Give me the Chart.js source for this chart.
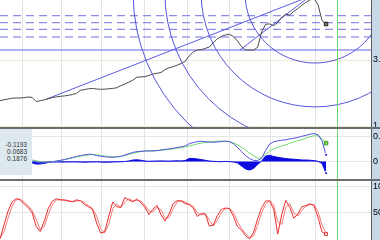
<!DOCTYPE html>
<html>
<head>
<meta charset="utf-8">
<script src="https://cdn.jsdelivr.net/npm/chart.js@4/dist/chart.umd.min.js"></script>
<style>
  html, body { margin: 0; padding: 0; background: #fff; }
  #wrap { position: relative; width: 380px; height: 240px; overflow: hidden; background: #fff; }
  canvas { position: absolute; left: 0; }
  .sep { position: absolute; left: 0; width: 380px; height: 2px; background: #6d6d6d; }
  #macdBox {
    position: absolute; left: 0; top: 129px; width: 32px; height: 46px;
    box-sizing: border-box; padding: 13px 5px 0 0;
    background: #dde8ef; color: #333; text-align: right;
    font: 6.5px 'Liberation Sans', Arial, sans-serif; line-height: 6.8px;
  }
</style>
</head>
<body>
<div id="wrap">
  <canvas id="priceChart" width="410" height="127" style="top:0"></canvas>
  <div class="sep" style="top:127px"></div>
  <canvas id="macdChart" width="410" height="50" style="top:129px"></canvas>
  <div class="sep" style="top:179px"></div>
  <canvas id="stochChart" width="410" height="59" style="top:181px"></canvas>
  <div id="macdBox"></div>
</div>
<script>
// one value per bar, bar 0 is the left edge
const priceClose = [
  1.770, 1.794, 1.818, 1.842, 1.848, 1.848, 1.860, 1.879, 1.866, 1.742,
  1.767, 1.794, 1.824, 1.860, 1.882, 1.900, 1.912, 1.930, 1.954, 1.988,
  2.085, 2.103, 2.130, 2.136, 2.121, 2.112, 2.118, 2.127, 2.139, 2.160,
  2.221, 2.270, 2.330, 2.388, 2.476, 2.488, 2.494, 2.533, 2.573, 2.597,
  2.621, 2.712, 2.763, 2.797, 2.842, 2.894, 2.957, 3.121, 3.242, 3.303,
  3.315, 3.351, 3.394, 3.524, 3.642, 3.715, 3.757, 3.782, 3.709, 3.576,
  3.409, 3.303, 3.303, 3.303, 3.385, 3.848, 4.082, 4.094, 4.039, 4.139,
  4.294, 4.391, 4.363, 4.476, 4.560, 4.660, 4.748, 4.818, 4.864, 4.682,
  4.197, 4.091
]

// oscillators start at bar 8 (under the readout box)
const oscStart = 8
const macdLine = [
  0.005, -0.005, -0.018, -0.013, -0.007, -0.003, 0.005, 0.012, 0.020, 0.030,
  0.041, 0.051, 0.061, 0.068, 0.074, 0.072, 0.060, 0.054, 0.049, 0.044,
  0.044, 0.047, 0.051, 0.066, 0.079, 0.093, 0.100, 0.104, 0.107, 0.108,
  0.109, 0.111, 0.117, 0.124, 0.128, 0.135, 0.143, 0.150, 0.158, 0.181,
  0.193, 0.202, 0.207, 0.202, 0.199, 0.196, 0.199, 0.203, 0.208, 0.202,
  0.181, 0.143, 0.102, 0.061, 0.030, 0.011, 0.010, 0.033, 0.114, 0.179,
  0.201, 0.211, 0.217, 0.222, 0.230, 0.237, 0.246, 0.257, 0.267, 0.278,
  0.286, 0.272, 0.211, 0.0683
]
const macdSignal = [
  0.015, 0.008, -0.001, -0.007, -0.005, -0.003, 0.004, 0.010, 0.017, 0.028,
  0.037, 0.046, 0.054, 0.061, 0.067, 0.072, 0.068, 0.062, 0.056, 0.052,
  0.047, 0.049, 0.054, 0.060, 0.071, 0.083, 0.092, 0.102, 0.107, 0.107,
  0.107, 0.111, 0.115, 0.119, 0.123, 0.128, 0.135, 0.141, 0.148, 0.159,
  0.168, 0.179, 0.188, 0.194, 0.201, 0.205, 0.208, 0.208, 0.207, 0.203,
  0.190, 0.170, 0.145, 0.118, 0.087, 0.060, 0.033, 0.037, 0.074, 0.105,
  0.129, 0.143, 0.157, 0.171, 0.185, 0.199, 0.212, 0.223, 0.237, 0.252,
  0.263, 0.262, 0.234, 0.1876
]
const macdHist = [
  -0.015, -0.026, -0.026, -0.020, -0.010, -0.005, -0.005, -0.006, -0.006, -0.005,
  -0.004, -0.005, -0.006, -0.007, -0.006, -0.005, -0.004, -0.006, -0.008, -0.007,
  -0.005, -0.004, -0.003, 0, 0.005, 0.015, 0.017, 0.013, 0.005, 0.002,
  0.004, 0.005, 0.006, 0.005, 0.004, 0.006, 0.007, 0.006, 0.010, 0.031,
  0.031, 0.026, 0.020, 0.012, 0.005, 0.002, -0.001, -0.002, 0.001, -0.001,
  -0.005, -0.015, -0.046, -0.077, -0.087, -0.071, -0.031, 0.005, 0.056, 0.063,
  0.051, 0.043, 0.036, 0.030, 0.026, 0.023, 0.020, 0.015, 0.015, 0.013,
  0.009, 0.002, -0.020, -0.1193
]
const macdReadout = ['-0.1193', '0.0683', '0.1876']

const stochK = [
  0, 26.9, 53.8, 71.2, 77.7, 75, 67.3, 60.6, 50, 24,
  14.4, 34.6, 59, 72.7, 77.5, 75, 75, 72.7, 71.7, 75.2,
  73.5, 66.3, 61.9, 56.9, 30.8, 11.5, 13.5, 42.9, 71.2, 62.1,
  60.6, 79.6, 75, 71.7, 76.9, 70, 61, 47.1, 57.3, 64.4,
  46.7, 34.6, 48.1, 67.7, 73.8, 73.1, 68.1, 66.2, 59.2, 43.3,
  49, 48.1, 25, 26.9, 45.2, 56.7, 59.6, 58.7, 43.3, 23.7,
  17.3, 6.3, 0, 12.9, 38.5, 60.2, 73.1, 73.1, 56.7, 9.6,
  47.1, 74.2, 60.6, 40, 48.1, 62.1, 64.4, 67.7, 64.4, 41.7,
  13.5, 9.6
]
const stochD = [
  2, 14, 40, 63, 75, 77, 71, 64, 55, 37,
  18, 24, 47, 66, 75, 76, 75, 74, 72, 73,
  74, 70, 64, 59, 44, 20, 12, 28, 58, 67,
  61, 70, 78, 73, 74, 73, 65, 54, 52, 61,
  56, 40, 41, 58, 71, 74, 71, 67, 63, 51,
  46, 49, 36, 25, 36, 51, 58, 59, 51, 33,
  20, 11, 3, 6, 26, 50, 67, 74, 65, 33,
  28, 61, 68, 50, 44, 55, 63, 66, 66, 53,
  27, 11
]

// drawing tools on the price panel (bar, price)
const supportLevel = 3.303
const fibLevels = [3.697, 3.930, 4.130, 4.342]
const trendLine = [[11.6, 1.818], [82, 5.166]]
const fanLine = [[59.6, 3.303], [75.8, 4.818]]
const arcCenter = [78.26, 5.03]
const arcRadii = [17.4, 28.3, 37.3, 45.2]

const monthLines = [5.6, 15.3, 25.3, 35.8, 46.7, 56.9, 67.1, 78.3]
const todayBar = 83.7
const lastSlot = 92.17

const priceTicks = [1, 3]
const macdTicks = [-0.25, 0, 0.25]
const stochTicks = [50, 100]

function toPoints(arr, start = 0) {
  return arr.map((v, i) => ({x: i + start, y: v}))
}

function pairPoints(seg) {
  return seg.map(p => ({x: p[0], y: p[1]}))
}

function lastMarker(len, size) {
  return c => c.dataIndex === len - 1 ? size : 0
}

function lineSet(data, color, extra) {
  return Object.assign({
    data: data, borderColor: color, backgroundColor: color,
    borderWidth: 1, pointRadius: 0, tension: 0, fill: false
  }, extra || {})
}

const todayLine = {
  id: 'todayLine',
  afterDatasetsDraw(chart) {
    const {ctx, chartArea, scales} = chart
    const x = Math.round(scales.x.getPixelForValue(todayBar)) + 0.5
    ctx.save()
    ctx.strokeStyle = '#6cd86c'
    ctx.lineWidth = 1
    ctx.beginPath()
    ctx.moveTo(x, chartArea.top)
    ctx.lineTo(x, chartArea.bottom)
    ctx.stroke()
    ctx.restore()
  }
}

const fibArcs = {
  id: 'fibArcs',
  afterDatasetsDraw(chart) {
    const {ctx, chartArea, scales} = chart
    const cx = scales.x.getPixelForValue(arcCenter[0])
    const cy = scales.y.getPixelForValue(arcCenter[1])
    ctx.save()
    ctx.beginPath()
    ctx.rect(chartArea.left, chartArea.top, chartArea.width, chartArea.height)
    ctx.clip()
    ctx.strokeStyle = '#5656d8'
    ctx.lineWidth = 1
    arcRadii.forEach(r => {
      const rp = scales.x.getPixelForValue(arcCenter[0] + r) - cx
      ctx.beginPath()
      ctx.arc(cx, cy, rp, 0, Math.PI * 2)
      ctx.stroke()
    })
    ctx.restore()
  }
}

function panelOptions(yMin, yMax, ticks, fmt, gridColor) {
  return {
    responsive: false,
    animation: false,
    layout: {padding: 0, autoPadding: false},
    plugins: {legend: {display: false}, tooltip: {enabled: false}},
    scales: {
      x: {
        type: 'linear', min: 0, max: lastSlot,
        afterBuildTicks: s => { s.ticks = monthLines.map(v => ({value: v})) },
        afterFit: s => { s.height = 0; s.paddingLeft = 0; s.paddingRight = 0 },
        ticks: {display: false},
        grid: {color: '#e3e3e3', drawTicks: false},
        border: {display: false}
      },
      y: {
        position: 'right', min: yMin, max: yMax,
        afterBuildTicks: s => { s.ticks = ticks.map(v => ({value: v})) },
        afterFit: s => { s.width = 39; s.paddingTop = 0; s.paddingBottom = 0 },
        backgroundColor: '#c7d9e8',
        ticks: {padding: 2, color: '#000', font: {family: 'Liberation Sans', size: 9}, callback: fmt},
        grid: {color: gridColor, drawTicks: false},
        border: {display: true, color: '#5c5c5c', width: 1}
      }
    }
  }
}

// price panel
const priceSets = [
  lineSet(toPoints(priceClose), '#4a4a4a', {
    pointRadius: lastMarker(priceClose.length, 2.5), pointStyle: 'rect',
    pointBackgroundColor: '#777', pointBorderColor: '#222'
  }),
  lineSet(pairPoints(trendLine), '#5a5ae4'),
  lineSet(pairPoints(fanLine), '#5a5ae4'),
  lineSet([{x: 0, y: supportLevel}, {x: lastSlot, y: supportLevel}], '#6464e6')
]
fibLevels.forEach(v => {
  priceSets.push(lineSet([{x: 0, y: v}, {x: lastSlot, y: v}], '#7070e6', {borderDash: [8, 5]}))
})

new Chart(document.getElementById('priceChart'), {
  type: 'line',
  data: {datasets: priceSets},
  options: panelOptions(0.970, 4.818, priceTicks, v => v.toFixed(2), '#ecead8'),
  plugins: [fibArcs, todayLine]
})

// MACD panel
new Chart(document.getElementById('macdChart'), {
  type: 'line',
  data: {
    datasets: [
      lineSet(toPoints(macdLine, oscStart), '#5252e2', {
        pointRadius: lastMarker(macdLine.length, 2), pointStyle: 'rect',
        pointBackgroundColor: '#2a2ad0', pointBorderColor: '#fff'
      }),
      lineSet(toPoints(macdSignal, oscStart), '#72d872', {
        pointRadius: lastMarker(macdSignal.length, 2.5), pointStyle: 'rect',
        pointBackgroundColor: '#7cdc3c', pointBorderColor: '#3a9a3a'
      }),
      lineSet(toPoints(macdHist, oscStart), '#0a0ae0', {
        fill: 'origin', backgroundColor: '#0a0ae0',
        pointRadius: lastMarker(macdHist.length, 2), pointStyle: 'rect',
        pointBackgroundColor: '#2a2ad0', pointBorderColor: '#fff'
      })
    ]
  },
  options: panelOptions(-0.1786, 0.3316, macdTicks, v => v === 0 ? '0' : v.toFixed(2), '#e6e6e6'),
  plugins: [todayLine]
})

// stochastic panel
new Chart(document.getElementById('stochChart'), {
  type: 'line',
  data: {
    datasets: [
      lineSet(toPoints(stochK), '#e62e2e', {
        pointRadius: lastMarker(stochK.length, 2), pointStyle: 'rect',
        pointBackgroundColor: '#fff', pointBorderColor: '#e62e2e'
      }),
      lineSet(toPoints(stochD), '#f47a7a')
    ]
  },
  options: panelOptions(-1.9, 111.5, stochTicks, v => String(v), '#e6e6e6'),
  plugins: [todayLine]
})

document.getElementById('macdBox').innerHTML = macdReadout.map(t => '<div>' + t + '</div>').join('')
</script>
</body>
</html>
